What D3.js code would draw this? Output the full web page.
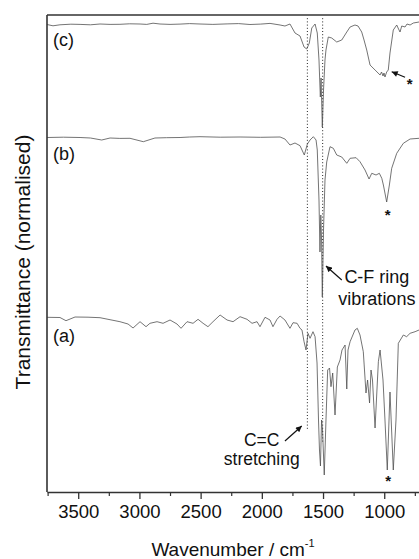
<!DOCTYPE html>
<html>
<head>
<meta charset="utf-8">
<script src="https://cdn.jsdelivr.net/npm/d3@7/dist/d3.min.js"></script>
<style>
	body { margin: 0; background: #fff; }
	svg text { font-family: "Liberation Sans", Arial, sans-serif; fill: #111; }
</style>
</head>
<body>
<svg id="chart" width="419" height="559"></svg>
<script>

	// x axis ticks (wavenumber, cm-1)
	var majorTicks = [ 3500, 3000, 2500, 2000, 1500, 1000 ],
		minorTicks = [ 3750, 3250, 2750, 2250, 1750, 1250, 750 ];

	// reference lines: C=C stretching and C-F ring vibrations
	var markerLines = [ 1628, 1503 ];

	// spectrum (c) - top
	var wavenumberC = [ 3755, 3706, 3649, 3560, 3485, 3400, 3322, 3240, 3159, 3080, 2995, 2940, 2889, 2832, 2750, 2668, 2590, 2505, 2400, 2284, 2190, 2097, 2010, 1933, 1851, 1811, 1770, 1729, 1688, 1655, 1633, 1612, 1592, 1565, 1547, 1533, 1522, 1516, 1506, 1496, 1484, 1476, 1457, 1429, 1388, 1347, 1306, 1279, 1239, 1214, 1184, 1165, 1143, 1116, 1075, 1034, 1022, 1010, 1002, 994, 980, 967, 953, 926, 898, 883, 871, 857, 830, 814, 789, 762, 716 ],
		valueC = [ 4.675, 4.662, 4.672, 4.678, 4.676, 4.672, 4.680, 4.676, 4.677, 4.682, 4.680, 4.676, 4.688, 4.680, 4.676, 4.679, 4.684, 4.680, 4.676, 4.681, 4.684, 4.675, 4.679, 4.686, 4.670, 4.660, 4.680, 4.590, 4.560, 4.450, 4.430, 4.490, 4.640, 4.680, 4.590, 4.320, 3.950, 4.140, 3.650, 4.020, 4.320, 4.420, 4.550, 4.540, 4.500, 4.520, 4.600, 4.650, 4.670, 4.660, 4.600, 4.520, 4.420, 4.270, 4.220, 4.170, 4.200, 4.160, 4.190, 4.150, 4.200, 4.220, 4.390, 4.620, 4.670, 4.630, 4.600, 4.660, 4.650, 4.680, 4.670, 4.690, 4.700 ];

	// spectrum (b) - middle
	var wavenumberB = [ 3755, 3620, 3485, 3400, 3308, 3240, 3160, 3077, 2968, 2873, 2780, 2668, 2590, 2505, 2340, 2178, 2010, 1851, 1811, 1770, 1729, 1688, 1653, 1628, 1606, 1579, 1557, 1547, 1533, 1525, 1518, 1512, 1506, 1496, 1484, 1470, 1443, 1416, 1388, 1347, 1306, 1279, 1230, 1198, 1157, 1124, 1102, 1067, 1040, 1020, 1007, 980, 958, 939, 898, 844, 789, 716 ],
		valueB = [ 3.545, 3.548, 3.545, 3.540, 3.520, 3.540, 3.536, 3.537, 3.503, 3.540, 3.543, 3.545, 3.550, 3.553, 3.548, 3.550, 3.547, 3.550, 3.530, 3.470, 3.490, 3.463, 3.370, 3.480, 3.520, 3.553, 3.520, 3.420, 2.920, 2.400, 2.770, 2.520, 1.950, 2.620, 3.120, 3.300, 3.453, 3.437, 3.370, 3.350, 3.287, 3.337, 3.343, 3.303, 3.220, 3.130, 3.187, 3.170, 3.187, 3.137, 3.070, 2.900, 3.070, 3.237, 3.387, 3.487, 3.530, 3.537 ];

	// spectrum (a) - bottom
	var wavenumberA = [ 3755, 3649, 3600, 3526, 3420, 3322, 3159, 3093, 3052, 2995, 2946, 2914, 2856, 2807, 2750, 2693, 2660, 2611, 2562, 2521, 2480, 2440, 2399, 2341, 2284, 2235, 2178, 2121, 2080, 2039, 2015, 1974, 1933, 1909, 1876, 1851, 1811, 1770, 1745, 1712, 1688, 1672, 1655, 1639, 1623, 1606, 1582, 1565, 1549, 1537, 1529, 1521, 1512, 1504, 1490, 1476, 1462, 1447, 1435, 1421, 1402, 1383, 1361, 1345, 1320, 1306, 1296, 1279, 1239, 1220, 1198, 1171, 1149, 1136, 1120, 1108, 1096, 1075, 1048, 1034, 1010, 994, 975, 953, 926, 904, 885, 844, 817, 789, 748, 716 ],
		valueA = [ 1.747, 1.745, 1.713, 1.750, 1.748, 1.743, 1.703, 1.680, 1.640, 1.703, 1.653, 1.687, 1.703, 1.687, 1.720, 1.680, 1.637, 1.703, 1.687, 1.727, 1.687, 1.653, 1.703, 1.770, 1.720, 1.703, 1.753, 1.727, 1.687, 1.703, 1.653, 1.747, 1.720, 1.653, 1.727, 1.760, 1.720, 1.637, 1.693, 1.687, 1.637, 1.620, 1.503, 1.420, 1.587, 1.537, 1.603, 1.553, 1.290, 0.720, 0.420, 0.260, 0.720, 0.620, 0.170, 0.720, 1.220, 1.240, 1.053, 1.190, 0.770, 1.250, 1.320, 1.420, 1.470, 1.030, 1.420, 1.503, 1.620, 1.637, 1.570, 1.403, 0.990, 1.120, 0.890, 1.220, 1.120, 0.640, 1.303, 1.420, 1.120, 0.720, 0.220, 1.000, 0.220, 0.720, 1.487, 1.570, 1.553, 1.587, 1.603, 1.620 ];

	var spectra = [
		{ id: 'c', label: '(c)', wavenumber: wavenumberC, value: valueC },
		{ id: 'b', label: '(b)', wavenumber: wavenumberB, value: valueB },
		{ id: 'a', label: '(a)', wavenumber: wavenumberA, value: valueA }
	];


	( function() {

		var svg = d3.select( '#chart' ),
			plotLeft = 47,
			plotRight = 419,
			plotTop = 15,
			plotBottom = 492,
			x, y, line, axisMajor, axisMinor, xTitle, arrows, notes;

		x = d3.scaleLinear()
			.domain( [ 3755, 716 ] )
			.range( [ plotLeft, plotRight ] );

		// transmittance, arbitrary normalised units with offset traces
		y = d3.scaleLinear()
			.domain( [ 0, 4.77 ] )
			.range( [ plotBottom, plotTop ] );

		line = d3.line()
			.x( function( d ) { return x( d[ 0 ] ); } )
			.y( function( d ) { return y( d[ 1 ] ); } );

		svg.append( 'defs' ).append( 'marker' )
			.attr( 'id', 'arrow' )
			.attr( 'viewBox', '0 0 10 10' )
			.attr( 'refX', 10 )
			.attr( 'refY', 5 )
			.attr( 'markerWidth', 7 )
			.attr( 'markerHeight', 6 )
			.attr( 'markerUnits', 'userSpaceOnUse' )
			.attr( 'orient', 'auto' )
			.append( 'path' )
			.attr( 'd', 'M0,0L10,5L0,10Z' )
			.attr( 'fill', '#111' );

		svg.append( 'clipPath' )
			.attr( 'id', 'plot-clip' )
			.append( 'rect' )
			.attr( 'x', plotLeft )
			.attr( 'y', plotTop )
			.attr( 'width', plotRight - plotLeft )
			.attr( 'height', plotBottom - plotTop );

		// dotted marker lines
		svg.selectAll( 'line.marker' )
			.data( markerLines )
			.enter()
			.append( 'line' )
			.attr( 'class', 'marker' )
			.attr( 'x1', function( d ) { return x( d ); } )
			.attr( 'x2', function( d ) { return x( d ); } )
			.attr( 'y1', y( 4.77 ) )
			.attr( 'y2', function( d, i ) { return i === 0 ? y( 0.62 ) : y( 0.5 ); } )
			.attr( 'stroke', '#222' )
			.attr( 'stroke-width', 1 )
			.attr( 'stroke-dasharray', '1,2.2' );

		// spectra
		svg.append( 'g' )
			.attr( 'clip-path', 'url(#plot-clip)' )
			.selectAll( 'path.spectrum' )
			.data( spectra )
			.enter()
			.append( 'path' )
			.attr( 'class', 'spectrum' )
			.attr( 'd', function( s ) {
				return line( d3.zip( s.wavenumber, s.value ) );
			} )
			.attr( 'fill', 'none' )
			.attr( 'stroke', '#505050' )
			.attr( 'stroke-width', 0.8 )
			.attr( 'stroke-linejoin', 'round' );

		// trace labels
		svg.selectAll( 'text.trace-label' )
			.data( spectra )
			.enter()
			.append( 'text' )
			.attr( 'class', 'trace-label' )
			.attr( 'x', x( 3706 ) )
			.attr( 'y', function( s ) {
				return y( { c: 4.46, b: 3.32, a: 1.505 }[ s.id ] );
			} )
			.attr( 'font-size', 18 )
			.text( function( s ) { return s.label; } );

		// frame: top border and left axis
		svg.append( 'line' )
			.attr( 'x1', plotLeft ).attr( 'x2', plotRight )
			.attr( 'y1', plotTop ).attr( 'y2', plotTop )
			.attr( 'stroke', '#666' )
			.attr( 'stroke-width', 2 );

		svg.append( 'line' )
			.attr( 'x1', plotLeft ).attr( 'x2', plotLeft )
			.attr( 'y1', plotTop ).attr( 'y2', plotBottom )
			.attr( 'stroke', '#333' )
			.attr( 'stroke-width', 1.6 );

		// bottom axis
		axisMajor = svg.append( 'g' )
			.attr( 'transform', 'translate(0,' + plotBottom + ')' )
			.call( d3.axisBottom( x ).tickValues( majorTicks ).tickSize( 7 ).tickSizeOuter( 0 ).tickPadding( 6 ).tickFormat( d3.format( 'd' ) ) );

		axisMajor.select( '.domain' )
			.attr( 'stroke', '#333' )
			.attr( 'stroke-width', 1.6 );
		axisMajor.selectAll( '.tick line' )
			.attr( 'stroke', '#333' )
			.attr( 'stroke-width', 1.3 );
		axisMajor.selectAll( '.tick text' )
			.attr( 'font-family', '"Liberation Sans", Arial, sans-serif' )
			.attr( 'font-size', 18.5 )
			.attr( 'fill', '#111' );

		axisMinor = svg.append( 'g' )
			.attr( 'transform', 'translate(0,' + plotBottom + ')' )
			.call( d3.axisBottom( x ).tickValues( minorTicks ).tickSize( 4 ).tickSizeOuter( 0 ).tickFormat( '' ) );

		axisMinor.select( '.domain' ).remove();
		axisMinor.selectAll( '.tick line' )
			.attr( 'stroke', '#333' )
			.attr( 'stroke-width', 1.2 );

		// axis titles
		xTitle = svg.append( 'text' )
			.attr( 'x', 233 )
			.attr( 'y', 556 )
			.attr( 'text-anchor', 'middle' )
			.attr( 'font-size', 19 );
		xTitle.append( 'tspan' ).text( 'Wavenumber / cm' );
		xTitle.append( 'tspan' )
			.attr( 'dy', -9 )
			.attr( 'font-size', 11 )
			.text( '-1' );

		svg.append( 'text' )
			.attr( 'transform', 'translate(30,262) rotate(-90)' )
			.attr( 'text-anchor', 'middle' )
			.attr( 'font-size', 21 )
			.text( 'Transmittance (normalised)' );

		// annotations
		arrows = [
			{ from: [ 830, 4.147 ], to: [ 939, 4.203 ] },
			{ from: [ 1347, 2.12 ], to: [ 1476, 2.26 ] },
			{ from: [ 1811, 0.51 ], to: [ 1674, 0.66 ] }
		];

		svg.selectAll( 'line.arrow' )
			.data( arrows )
			.enter()
			.append( 'line' )
			.attr( 'class', 'arrow' )
			.attr( 'x1', function( d ) { return x( d.from[ 0 ] ); } )
			.attr( 'y1', function( d ) { return y( d.from[ 1 ] ); } )
			.attr( 'x2', function( d ) { return x( d.to[ 0 ] ); } )
			.attr( 'y2', function( d ) { return y( d.to[ 1 ] ); } )
			.attr( 'stroke', '#111' )
			.attr( 'stroke-width', 1.2 )
			.attr( 'marker-end', 'url(#arrow)' );

		notes = [
			{ text: 'C-F ring', at: [ 1060, 2.094 ], size: 18 },
			{ text: 'vibrations', at: [ 1060, 1.87 ], size: 18 },
			{ text: 'C=C', at: [ 2001, 0.46 ], size: 17.5 },
			{ text: 'stretching', at: [ 2001, 0.27 ], size: 17.5 },
			{ text: '*', at: [ 793, 4.03 ], size: 15 },
			{ text: '*', at: [ 972, 2.72 ], size: 15 },
			{ text: '*', at: [ 967, 0.06 ], size: 15 }
		];

		svg.selectAll( 'text.note' )
			.data( notes )
			.enter()
			.append( 'text' )
			.attr( 'class', 'note' )
			.attr( 'x', function( d ) { return x( d.at[ 0 ] ); } )
			.attr( 'y', function( d ) { return y( d.at[ 1 ] ); } )
			.attr( 'text-anchor', 'middle' )
			.attr( 'font-size', function( d ) { return d.size; } )
			.attr( 'font-weight', function( d ) { return d.text === '*' ? 'bold' : null; } )
			.text( function( d ) { return d.text; } );

	} )();

</script>
</body>
</html>
